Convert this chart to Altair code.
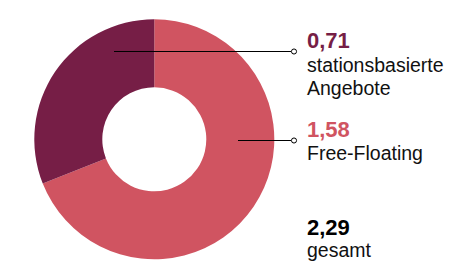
import altair as alt
import pandas as pd

# ---- data ----
categories = ["Free-Floating", "stationsbasierte Angebote"]
values = [1.58, 0.71]
label_lines = [["Free-Floating"], ["stationsbasierte", "Angebote"]]
colors = ["#d05461", "#761e46"]
total_label = "gesamt"


def de(v):
    return f"{v:.2f}".replace(".", ",")


total = round(sum(values), 2)

# ---- layout (chart coordinates, page margin 8px already removed) ----
W, H = 437, 253
CX, CY = 146.3, 131.3
R_OUT, R_IN = 120, 52
TEXT_X = 299
value_baselines = [128.7, 39.7]
label_baselines = [152.0, 63.7]
leader_y = [132.5, 43.5]
leader_x1 = [230, 106]
leader_x2 = [283, 283]
dot_x = 286
total_baselines = (227.0, 249.0)
FONT = "Liberation Sans"

arc_df = pd.DataFrame({"cat": categories, "value": values, "order": list(range(len(values)))})
color_scale = alt.Scale(domain=categories, range=colors)

arc = alt.Chart(arc_df).mark_arc(radius=R_OUT, radius2=R_IN).encode(
    theta=alt.Theta("value:Q", stack=True),
    order=alt.Order("order:Q"),
    color=alt.Color("cat:N", scale=color_scale, legend=None),
    x=alt.value(CX),
    y=alt.value(CY),
)

ann_df = pd.DataFrame({
    "cat": categories,
    "vtext": [de(v) for v in values],
    "ltext": [l for l in label_lines],
    "vy": value_baselines,
    "ly": label_baselines,
    "ry": leader_y,
    "rx1": leader_x1,
    "rx2": leader_x2,
})

rules = alt.Chart(ann_df).mark_rule(color="black", strokeWidth=1).encode(
    x=alt.X("rx1:Q", scale=None),
    x2="rx2:Q",
    y=alt.Y("ry:Q", scale=None),
)

dots = alt.Chart(ann_df).mark_point(
    shape="circle", filled=True, fill="white", stroke="black", strokeWidth=1, size=26, opacity=1
).encode(
    x=alt.value(dot_x),
    y=alt.Y("ry:Q", scale=None),
)

vtexts = alt.Chart(ann_df).mark_text(
    align="left", baseline="alphabetic", font=FONT, fontSize=22, fontWeight="bold"
).encode(
    x=alt.value(TEXT_X),
    y=alt.Y("vy:Q", scale=None),
    text="vtext:N",
    color=alt.Color("cat:N", scale=color_scale, legend=None),
)

ltexts = alt.Chart(ann_df).mark_text(
    align="left", baseline="alphabetic", font=FONT, fontSize=19.5, lineHeight=23.3, color="#111111"
).encode(
    x=alt.value(TEXT_X),
    y=alt.Y("ly:Q", scale=None),
    text="ltext",
)

tot_df = pd.DataFrame({"t": [de(total)], "l": [total_label]})
tot_v = alt.Chart(tot_df).mark_text(
    align="left", baseline="alphabetic", font=FONT, fontSize=22, fontWeight="bold", color="#000000"
).encode(x=alt.value(TEXT_X), y=alt.value(total_baselines[0]), text="t:N")
tot_l = alt.Chart(tot_df).mark_text(
    align="left", baseline="alphabetic", font=FONT, fontSize=19.5, color="#111111"
).encode(x=alt.value(TEXT_X), y=alt.value(total_baselines[1]), text="l:N")

chart = alt.layer(arc, rules, dots, vtexts, ltexts, tot_v, tot_l).properties(
    width=W, height=H, autosize=alt.AutoSizeParams(type="none"), padding=0
).configure_view(stroke=None)

chart.save("out.html", embed_options={"renderer": "svg", "actions": False})
